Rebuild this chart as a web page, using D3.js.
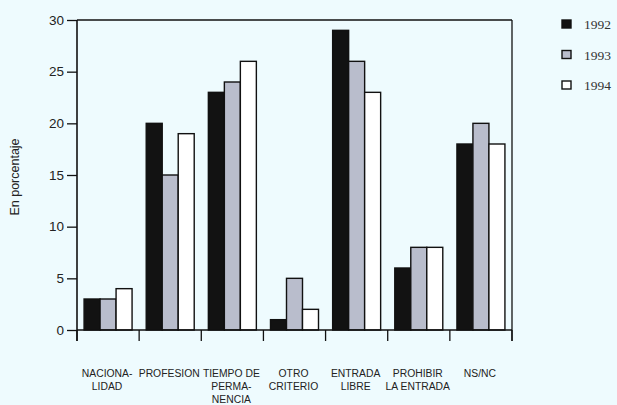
<!DOCTYPE html>
<html><head><meta charset="utf-8">
<script src="https://cdn.jsdelivr.net/npm/d3@7"></script>
<style>
html,body{margin:0;padding:0;background:#eefbfe;}
svg{display:block;}
</style></head>
<body>
<svg id="c" width="617" height="405"></svg>
<script>
const categories = [["NACIONA-","LIDAD"],["PROFESION"],["TIEMPO DE","PERMA-","NENCIA"],["OTRO","CRITERIO"],["ENTRADA","LIBRE"],["PROHIBIR","LA ENTRADA"],["NS/NC"]];
const years = ["1992","1993","1994"];
const v1992 = [3,20,23,1,29,6,18];
const v1993 = [3,15,24,5,26,8,20];
const v1994 = [4,19,26,2,23,8,18];
const yTicks = [0,5,10,15,20,25,30];
const series = [v1992,v1993,v1994];
const colors = ["#121212","#b9bdcc","#ffffff"];

const svg = d3.select("#c");
const L=77, R=512, T=20, B=330;
const idx = d3.range(categories.length);
const x0 = d3.scaleBand().domain(idx).range([L,R]).paddingInner(0.2276).paddingOuter(0.1138);
const x1 = d3.scaleBand().domain(years).range([0,x0.bandwidth()]);
const y = d3.scaleLinear().domain([0,30]).range([B,T]);

// bars
idx.forEach(i=>{
  years.forEach((yr,j)=>{
    const v = series[j][i];
    svg.append("rect")
      .attr("x", x0(i)+x1(yr))
      .attr("y", y(v))
      .attr("width", x1.bandwidth())
      .attr("height", y(0)-y(v))
      .attr("fill", colors[j])
      .attr("stroke","#111").attr("stroke-width",1.4);
  });
});

// y axis
const yAxis = d3.axisLeft(y).tickValues(yTicks).tickSize(10).tickPadding(3);
const gy = svg.append("g").attr("transform",`translate(${L},0)`).call(yAxis);
gy.select(".domain").remove();
gy.selectAll(".tick line").attr("stroke","#111").attr("stroke-width",1.3);
gy.selectAll(".tick text").attr("font-family","'Liberation Sans', Arial, sans-serif").attr("font-size",13.5).attr("fill","#222");

// frame lines
const stepEdges = d3.range(categories.length+1).map(k => L + k*x0.step());
svg.append("line").attr("x1",L).attr("x2",L).attr("y1",T).attr("y2",B+11).attr("stroke","#111").attr("stroke-width",1.6);
svg.append("line").attr("x1",R).attr("x2",R).attr("y1",T).attr("y2",B+11).attr("stroke","#111").attr("stroke-width",1.3);
svg.append("line").attr("x1",L).attr("x2",R).attr("y1",T).attr("y2",T).attr("stroke","#111").attr("stroke-width",1.3);
svg.append("line").attr("x1",L).attr("x2",R).attr("y1",B).attr("y2",B).attr("stroke","#111").attr("stroke-width",1.4);
stepEdges.forEach(xx=>{
  svg.append("line").attr("x1",xx).attr("x2",xx).attr("y1",B).attr("y2",B+11).attr("stroke","#111").attr("stroke-width",1.3);
});

// x labels
idx.forEach(i=>{
  const cx = x0(i)+x0.bandwidth()/2 - 1;
  const t = svg.append("text")
    .attr("transform",`translate(${cx},377) scale(0.9,1)`)
    .attr("text-anchor","middle")
    .attr("font-family","'Liberation Sans', Arial, sans-serif")
    .attr("font-size",11.5).attr("fill","#222");
  categories[i].forEach((ln,k)=>{
    t.append("tspan").attr("x",0).attr("dy",k===0?0:13).text(ln);
  });
});

// y label
svg.append("text").attr("transform","translate(19,177) rotate(-90)")
  .attr("text-anchor","middle")
  .attr("font-family","'Liberation Sans', Arial, sans-serif")
  .attr("font-size",12.5).attr("fill","#222").text("En porcentaje");

// legend
years.forEach((yr,j)=>{
  const ly = 20 + j*30.5;
  svg.append("rect").attr("x",562).attr("y",ly).attr("width",9).attr("height",8)
    .attr("fill",colors[j]).attr("stroke","#111").attr("stroke-width",1.4);
  svg.append("text").attr("x",584).attr("y",ly+9)
    .attr("font-family","'Liberation Serif','Times New Roman',serif")
    .attr("font-size",13.5).attr("fill","#333").text(yr);
});
</script>
</body></html>
